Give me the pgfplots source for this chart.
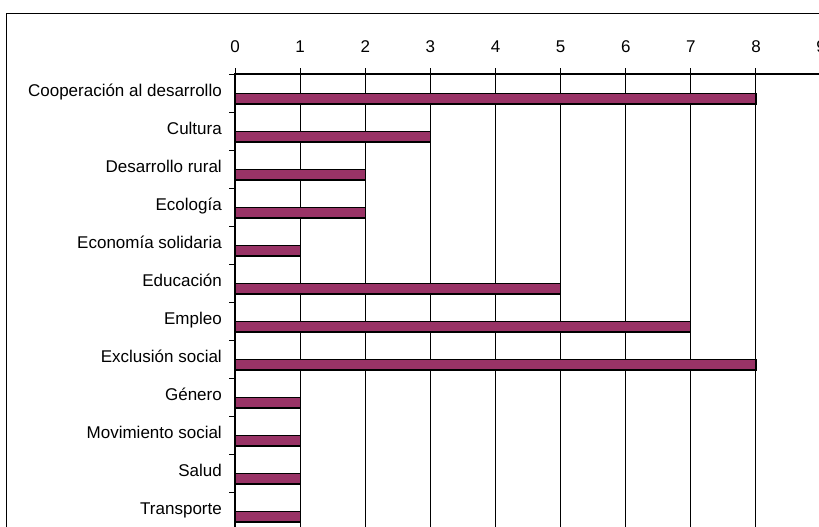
\documentclass[border=0pt]{standalone}
\usepackage{pgfplots}
\pgfplotsset{compat=1.18}
\usepackage{fontspec}
\setmainfont{Liberation Sans}
\definecolor{barc}{RGB}{153,51,102}
\begin{document}
\begin{tikzpicture}[font=\fontsize{8.5}{10}\selectfont]
\useasboundingbox (0,0) rectangle (409.5pt,263pt);
\clip (0,0) rectangle (409.5pt,263pt);
\draw[line width=0.65pt] (3.35pt,256.35pt) rectangle (430pt,-20pt);
\begin{axis}[
  scale only axis, width=293.06pt, height=228pt,
  anchor=north west, at={(117.5pt,226pt)},
  xmin=0, xmax=9, ymin=-0.5, ymax=11.5, y dir=reverse,
  xtick={0,...,9}, minor xtick={0,...,9}, xtick pos=upper, xticklabel pos=upper,
  ytick={0,...,11}, ytick pos=left,
  yticklabels={Cooperación al desarrollo,Cultura,Desarrollo rural,Ecología,Economía solidaria,Educación,Empleo,Exclusión social,Género,Movimiento social,Salud,Transporte},
  minor ytick={-0.5,0.5,...,11.5},
  tick align=outside,
  major tick length=0pt, minor tick length=2.8pt,
  tick style={black, line width=0.5pt},
  minor tick style={black, line width=0.5pt},
  xmajorgrids, major grid style={black, line width=0.5pt},
  axis line style={black, line width=0.6pt},
  xticklabel style={anchor=base, inner sep=0pt, yshift=11pt, font=\fontsize{8.5}{10}\selectfont},
  yticklabel style={anchor=base east, inner sep=0pt, xshift=-6.4pt, yshift=-1.85pt, font=\fontsize{8.5}{10}\selectfont},
  /pgf/number format/assume math mode=true,
]
\addplot[xbar, bar width=5.15pt, bar shift=-2.9pt, fill=barc, draw=black, line width=0.6pt]
  coordinates {(8,0) (3,1) (2,2) (2,3) (1,4) (5,5) (7,6) (8,7) (1,8) (1,9) (1,10) (1,11)};
\end{axis}
\end{tikzpicture}
\end{document}
